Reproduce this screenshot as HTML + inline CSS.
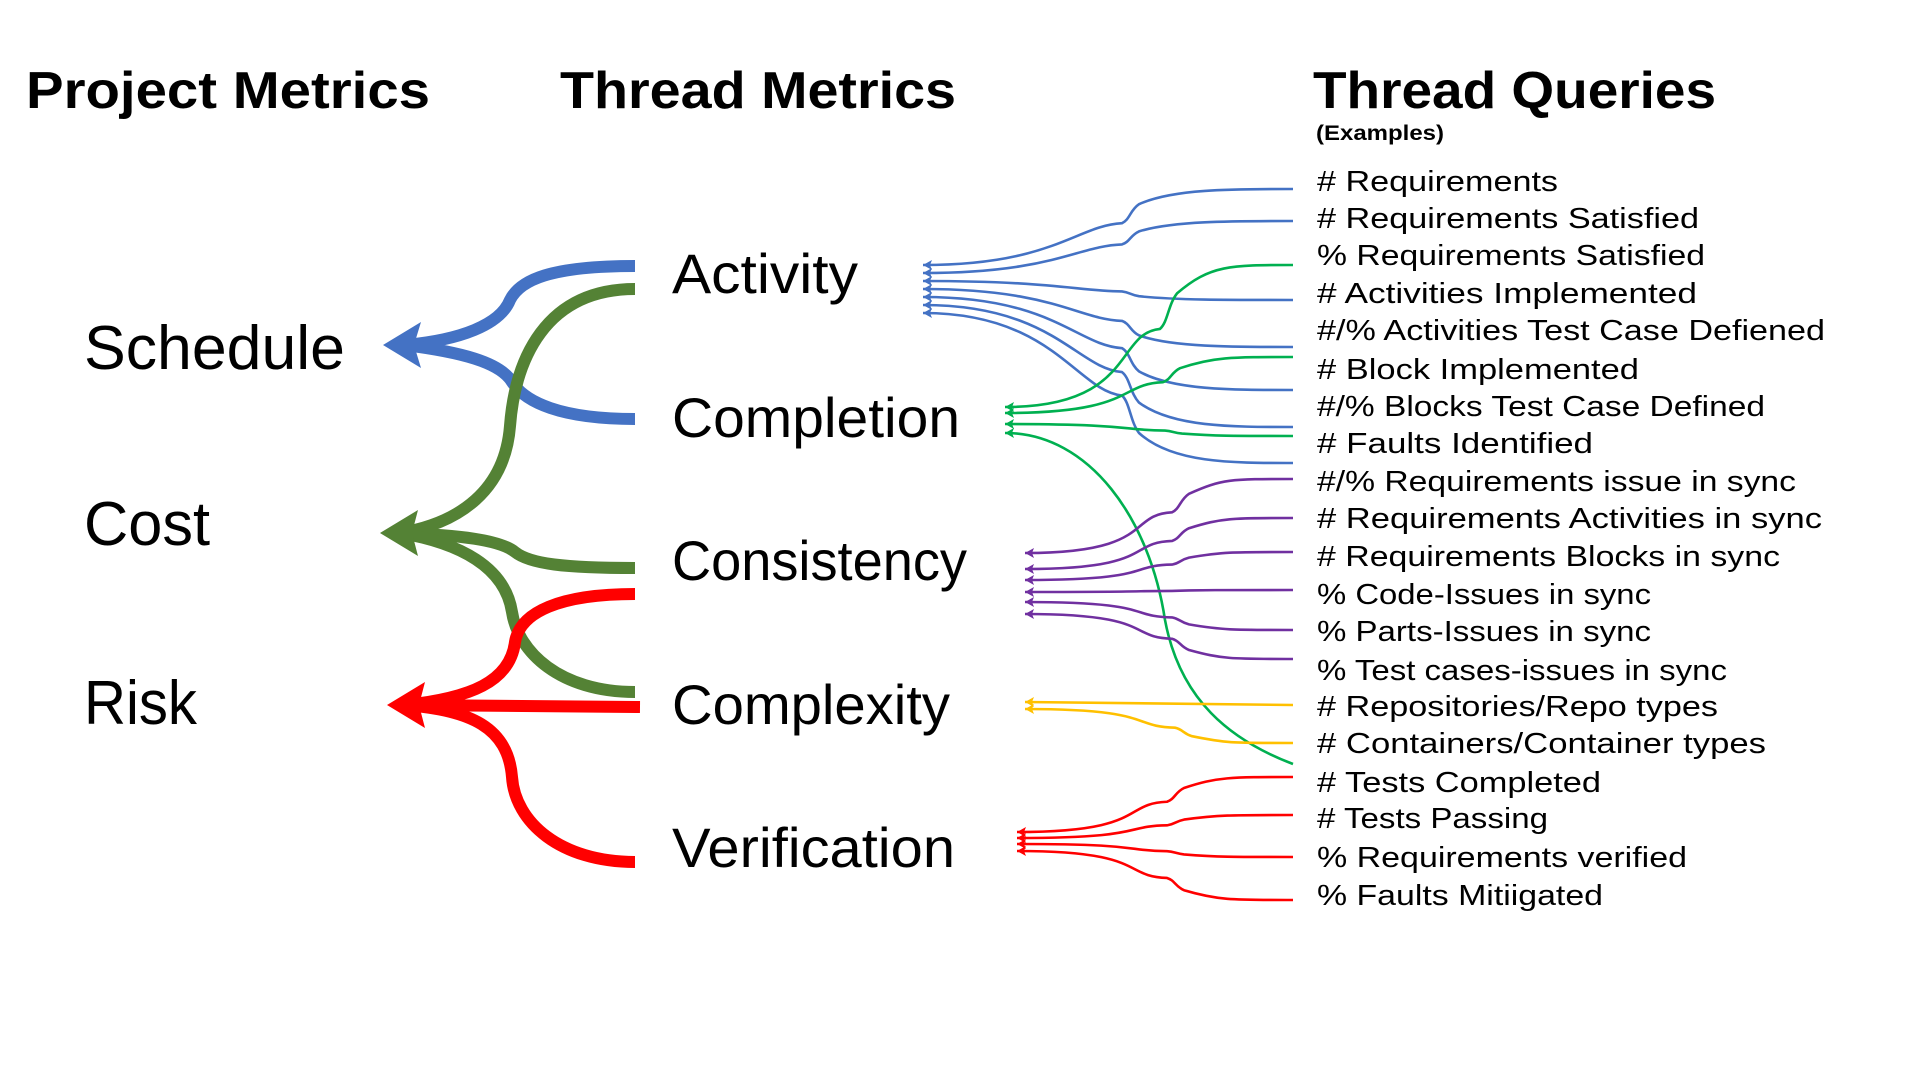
<!DOCTYPE html>
<html><head><meta charset="utf-8"><style>
html,body{margin:0;padding:0;background:#fff;width:1920px;height:1080px;overflow:hidden}
svg{display:block}
text{font-family:"Liberation Sans",sans-serif;fill:#000}
</style></head><body>
<svg id="s" width="1920" height="1080" viewBox="0 0 1920 1080" xmlns="http://www.w3.org/2000/svg">
<g font-weight="bold">
<text x="26" y="108" font-size="52" textLength="404" lengthAdjust="spacingAndGlyphs">Project Metrics</text>
<text x="560" y="108" font-size="52" textLength="396" lengthAdjust="spacingAndGlyphs">Thread Metrics</text>
<text x="1313" y="108" font-size="52" textLength="403" lengthAdjust="spacingAndGlyphs">Thread Queries</text>
<text x="1316" y="140" font-size="21" textLength="128" lengthAdjust="spacingAndGlyphs">(Examples)</text>
</g>
<g font-size="62">
<text x="84" y="369" textLength="261" lengthAdjust="spacingAndGlyphs">Schedule</text>
<text x="84" y="545" textLength="126" lengthAdjust="spacingAndGlyphs">Cost</text>
<text x="84" y="724" textLength="113" lengthAdjust="spacingAndGlyphs">Risk</text>
</g>
<g font-size="56">
<text x="672" y="293" textLength="186" lengthAdjust="spacingAndGlyphs">Activity</text>
<text x="672" y="437" textLength="288" lengthAdjust="spacingAndGlyphs">Completion</text>
<text x="672" y="580" textLength="295" lengthAdjust="spacingAndGlyphs">Consistency</text>
<text x="672" y="724" textLength="278" lengthAdjust="spacingAndGlyphs">Complexity</text>
<text x="672" y="867" textLength="283" lengthAdjust="spacingAndGlyphs">Verification</text>
</g>
<g fill="none" stroke-width="12">
<path stroke="#4472c4" d="M635,266 C550,266 520,280 510,300 C500,325 460,340 405,345"/>
<path stroke="#4472c4" d="M635,419 C560,419 525,402 512,382 C500,362 460,352 405,345"/>
<path stroke="#548235" d="M635,289 C545,289 515,360 510,426 C505,490 460,523 400,533"/>
<path stroke="#548235" d="M635,568 C565,568 530,564 515,552 C500,540 460,535 400,533"/>
<path stroke="#548235" d="M635,692 C560,692 518,652 512,612 C505,567 460,543 400,533"/>
<path stroke="#ff0000" d="M635,594 C560,594 520,612 515,642 C510,682 470,698 405,705"/>
<path stroke="#ff0000" d="M640,707 L405,705"/>
<path stroke="#ff0000" d="M635,862 C560,862 515,822 512,777 C508,727 470,710 405,705"/>
</g>
<polygon fill="#4472c4" points="383,345 421,322 414,345 421,368"/>
<polygon fill="#548235" points="380,533 418,510 412,533 418,556"/>
<polygon fill="#ff0000" points="387,705 425,682 419,705 425,728"/>
<g id="thin" fill="none" stroke-width="2.6"></g>
<g id="q" font-size="29"></g>
</svg>
<script>
var NS="http://www.w3.org/2000/svg",thin=document.getElementById('thin'),q=document.getElementById('q');
function P(d,c){var p=document.createElementNS(NS,'path');p.setAttribute('d',d);p.setAttribute('stroke',c);thin.appendChild(p);}
function A(x,y,c){var p=document.createElementNS(NS,'polygon');p.setAttribute('points',(x)+','+y+' '+(x+9)+','+(y-5)+' '+(x+7)+','+y+' '+(x+9)+','+(y+5));p.setAttribute('fill',c);p.setAttribute('stroke','none');thin.appendChild(p);}
function K(xa,ya,xk,ye,c){
 var d=ye-ya,y1=ya+0.55*d,y2=ya+0.8*d;
 var s='M'+xa+','+ya+' C'+(xa+130)+','+ya+' '+(xk-50)+','+(y1-d*0.03)+' '+(xk-5)+','+y1+
  ' C'+(xk+3)+','+(y1+d*0.05)+' '+(xk+3)+','+(y2-d*0.08)+' '+(xk+12)+','+y2+
  ' C'+(xk+45)+','+ye+' '+1230+','+ye+' 1293,'+ye;
 P(s,c);A(xa,ya,c);
}
var B='#4472c4';
var ba=[265,273,281,289,297,305,313],be=[189,221,300,347,390,427,463];
for(var i=0;i<7;i++)K(923,ba[i],1127,be[i],B);
var G='#00b050';
K(1005,407,1165,265,G);K(1005,413,1168,357,G);K(1005,424,1170,436,G);
P('M1005,433 C1090,433 1150,520 1165,620 C1180,700 1230,740 1293,764',G);A(1005,433,G);
var Pu='#7030a0',pa=[553,569,580,592,602,614],pe=[479,518,552,590,630,659];
for(i=0;i<6;i++)K(1025,pa[i],1177,pe[i],Pu);
var Y='#ffc000';P('M1025,702 L1293,705',Y);A(1025,702,Y);K(1025,709,1180,743,Y);
var R='#ff0000',ra=[832,838,844,851],re=[777,815,857,900];
for(i=0;i<4;i++)K(1017,ra[i],1172,re[i],R);
var T=["# Requirements","# Requirements Satisfied","% Requirements Satisfied","# Activities Implemented","#/% Activities Test Case Defiened","# Block Implemented","#/% Blocks Test Case Defined","# Faults Identified","#/% Requirements issue in sync","# Requirements Activities in sync","# Requirements Blocks in sync","% Code-Issues in sync","% Parts-Issues in sync","% Test cases-issues in sync","# Repositories/Repo types","# Containers/Container types","# Tests Completed","# Tests Passing","% Requirements verified","% Faults Mitiigated"];
var C=[181,218,255,293,330,369,406,443,481,518,556,594,631,670,706,743,782,818,857,895];
var W=[241,382,388,380,508,322,448,276,479,505,463,334,334,410,401,449,284,231,370,286];
for(i=0;i<20;i++){var t=document.createElementNS(NS,'text');t.setAttribute('x',1317);t.setAttribute('y',C[i]+10);t.setAttribute('textLength',W[i]);t.setAttribute('lengthAdjust','spacingAndGlyphs');t.textContent=T[i];q.appendChild(t);}
</script>
</body></html>
